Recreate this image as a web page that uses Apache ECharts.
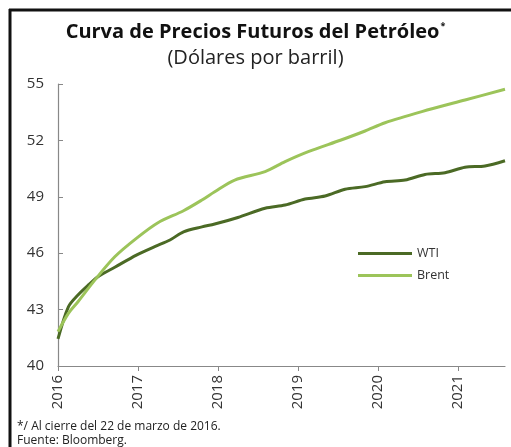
<!DOCTYPE html>
<html>
<head>
<meta charset="utf-8">
<script src="https://cdn.jsdelivr.net/npm/echarts@6/dist/echarts.min.js"></script>
<style>
  html, body { margin: 0; padding: 0; background: #fff; }
  #chart { width: 511px; height: 447px; }
</style>
</head>
<body>
<div id="chart"></div>
<script>
// fechas en años (decimal)
var wtiX = [2016.0, 2016.13, 2016.25, 2016.38, 2016.5, 2016.71, 2016.98, 2017.21, 2017.4, 2017.57, 2017.8,
  2017.96, 2018.25, 2018.59, 2018.84, 2019.09, 2019.34, 2019.59, 2019.84, 2020.09, 2020.34, 2020.59,
  2020.84, 2021.09, 2021.34, 2021.59];
var wtiY = [41.44, 43.15, 43.78, 44.31, 44.75, 45.25, 45.9, 46.35, 46.7, 47.14, 47.4,
  47.55, 47.9, 48.39, 48.56, 48.88, 49.04, 49.4, 49.54, 49.8, 49.89, 50.19,
  50.28, 50.57, 50.64, 50.92];

var brentX = [2016.0, 2016.13, 2016.25, 2016.46, 2016.71, 2016.98, 2017.25, 2017.57, 2017.8, 2017.96,
  2018.21, 2018.59, 2018.84, 2019.13, 2019.54, 2019.84, 2020.09, 2020.55, 2021.09, 2021.59];
var brentY = [41.83, 42.8, 43.42, 44.57, 45.81, 46.79, 47.62, 48.26, 48.83, 49.27,
  49.89, 50.34, 50.87, 51.4, 52.02, 52.5, 52.94, 53.53, 54.15, 54.72];

var yTicks = [40, 43, 46, 49, 52, 55];

function pares(xs, ys) {
  return xs.map(function (x, i) { return [x, ys[i]]; });
}

var chart = echarts.init(document.getElementById('chart'));

var option = {
  backgroundColor: '#fff',
  animation: false,
  textStyle: { fontFamily: 'Open Sans' },
  title: {
    text: '{t|Curva de Precios Futuros del Petróleo}{s|*}',
    subtext: '(Dólares por barril)',
    left: 'center',
    top: 17,
    itemGap: 6,
    textStyle: {
      rich: {
        t: { fontFamily: 'Open Sans', fontWeight: 'bold', fontSize: 20, color: '#111' },
        s: { fontFamily: 'Open Sans', fontWeight: 'bold', fontSize: 9, color: '#111', verticalAlign: 'top', padding: [0, 0, 12, 1] }
      }
    },
    subtextStyle: { fontFamily: 'Open Sans', fontSize: 20, color: '#222' }
  },
  legend: {
    orient: 'vertical',
    left: 353,
    top: 242,
    itemWidth: 54,
    itemHeight: 3,
    itemGap: 9,
    icon: 'rect',
    textStyle: { fontSize: 12.5, color: '#333' },
    data: ['WTI', 'Brent']
  },
  grid: { left: 58, right: 6, top: 84, bottom: 81, containLabel: false },
  xAxis: {
    type: 'value',
    min: 2016,
    max: 2021.59,
    interval: 1,
    splitLine: { show: false },
    axisLine: { lineStyle: { color: '#888', width: 1.2 } },
    axisTick: { show: true, length: 5, lineStyle: { color: '#888' } },
    axisLabel: {
      rotate: 90,
      fontSize: 15,
      color: '#333',
      margin: 9,
      showMaxLabel: false,
      formatter: function (v) { return Math.round(v) === v ? String(v) : ''; }
    }
  },
  yAxis: {
    type: 'value',
    min: 40,
    max: 55,
    interval: 3,
    splitLine: { show: false },
    axisLine: { show: true, lineStyle: { color: '#888', width: 1.2 } },
    axisTick: { show: true, inside: true, length: 5, lineStyle: { color: '#888' } },
    axisLabel: {
      fontSize: 15,
      color: '#333',
      margin: 14,
      formatter: function (v) { return yTicks.indexOf(v) >= 0 ? String(v) : ''; }
    }
  },
  series: [
    {
      name: 'WTI',
      type: 'line',
      data: pares(wtiX, wtiY),
      showSymbol: false,
      smooth: 0.3,
      lineStyle: { color: '#4b6a25', width: 3 },
      itemStyle: { color: '#4b6a25' }
    },
    {
      name: 'Brent',
      type: 'line',
      data: pares(brentX, brentY),
      showSymbol: false,
      smooth: 0.3,
      lineStyle: { color: '#9cc45a', width: 3 },
      itemStyle: { color: '#9cc45a' }
    }
  ],
  graphic: [
    { type: 'line', shape: { x1: 9, y1: 10, x2: 511, y2: 10 }, style: { stroke: '#111', lineWidth: 3 } },
    { type: 'line', shape: { x1: 10, y1: 9, x2: 10, y2: 447 }, style: { stroke: '#111', lineWidth: 3 } },
    {
      type: 'text', left: 17, top: 420,
      style: { text: '*/ Al cierre del 22 de marzo de 2016.\nFuente: Bloomberg.', font: '12px "Open Sans"', fill: '#222', lineHeight: 14 }
    }
  ]
};

chart.setOption(option);
</script>
</body>
</html>
